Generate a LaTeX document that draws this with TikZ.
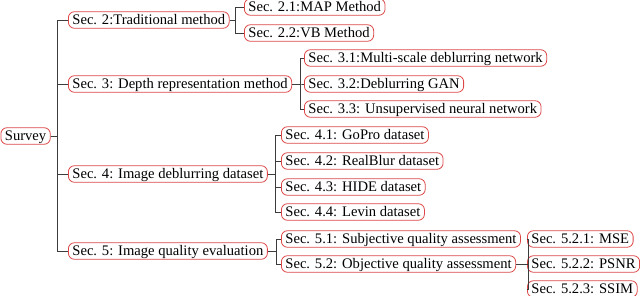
\documentclass[tikz,border=0pt]{standalone}
\usepackage{fontspec}
\setmainfont{Liberation Serif}
\definecolor{boxred}{RGB}{220,70,70}
\definecolor{linegray}{RGB}{60,60,60}
\begin{document}
\begin{tikzpicture}[x=1pt, y=-1pt,
    sec/.style={draw=boxred, line width=0.8pt, rounded corners=6pt, anchor=west,
      inner xsep=4pt, inner ysep=0pt, minimum height=16.5pt, text depth=0.25ex,
      font=\fontsize{14.6}{16}\selectfont},
    link/.style={draw=linegray, line width=0.8pt}]
  \useasboundingbox (0,0) rectangle (640,296);

  % root and first level
  \node[sec] (survey) at (0.5,136) {Survey};
  \node[sec] (s2) at (68,20) {Sec. 2:Traditional method};
  \node[sec] (s3) at (68,84) {Sec. 3: Depth representation method};
  \node[sec] (s4) at (68,174) {Sec. 4: Image deblurring dataset};
  \node[sec] (s5) at (68,251) {Sec. 5: Image quality evaluation};

  % second level
  \node[sec] (s21) at (244,7) {Sec. 2.1:MAP Method};
  \node[sec] (s22) at (244,33) {Sec. 2.2:VB Method};
  \node[sec] (s31) at (304,58) {Sec. 3.1:Multi-scale deblurring network};
  \node[sec] (s32) at (304,84) {Sec. 3.2:Deblurring GAN};
  \node[sec] (s33) at (304,109) {Sec. 3.3: Unsupervised neural network};
  \node[sec] (s41) at (281,135) {Sec. 4.1: GoPro dataset};
  \node[sec] (s42) at (281,161) {Sec. 4.2: RealBlur dataset};
  \node[sec] (s43) at (281,187) {Sec. 4.3: HIDE dataset};
  \node[sec] (s44) at (281,212) {Sec. 4.4: Levin dataset};
  \node[sec] (s51) at (281,239) {Sec. 5.1: Subjective quality assessment};
  \node[sec] (s52) at (281,264) {Sec. 5.2: Objective quality assessment};

  % third level
  \node[sec] (s521) at (527,239) {Sec. 5.2.1: MSE};
  \node[sec] (s522) at (527,264) {Sec. 5.2.2: PSNR};
  \node[sec] (s523) at (527,289) {Sec. 5.2.3: SSIM};

  % tree links
  \foreach \c in {s2,s3,s4,s5}
    \draw[link] (survey.east) -- ++(6.5,0) |- (\c.west);
  \foreach \c in {s21,s22}
    \draw[link] (s2.east) -- ++(6,0) |- (\c.west);
  \foreach \c in {s31,s32,s33}
    \draw[link] (s3.east) -- ++(8,0) |- (\c.west);
  \foreach \c in {s41,s42,s43,s44}
    \draw[link] (s4.east) -- ++(8,0) |- (\c.west);
  \foreach \c in {s51,s52}
    \draw[link] (s5.east) -- ++(9,0) |- (\c.west);
  \foreach \c in {s521,s522,s523}
    \draw[link] (s52.east) -- ++(12,0) |- (\c.west);
\end{tikzpicture}
\end{document}
